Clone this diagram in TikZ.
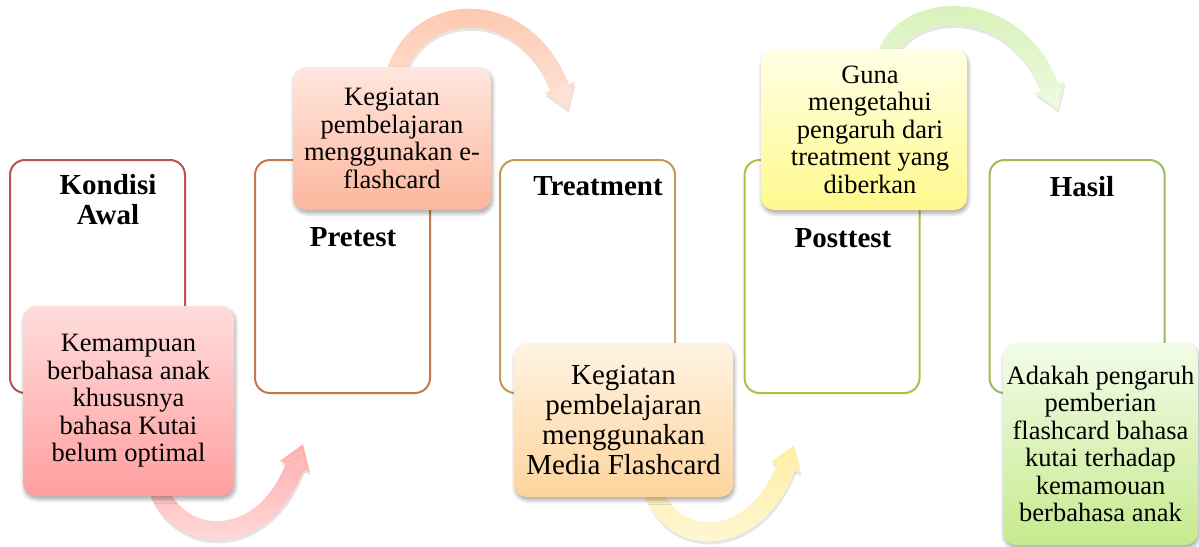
\documentclass[tikz,border=0pt]{standalone}
\usepackage{fontspec}
\setmainfont{Liberation Serif}
\usetikzlibrary{arrows.meta,shadows,shadows.blur,fadings}
\definecolor{oA}{HTML}{C0504D}
\definecolor{oB}{HTML}{C47850}
\definecolor{oC}{HTML}{C49A52}
\definecolor{oD}{HTML}{B9B94A}
\definecolor{oE}{HTML}{9BBB59}
\definecolor{fAt}{HTML}{FFDCDC}
\definecolor{fAb}{HTML}{FF9F9F}
\definecolor{fBt}{HTML}{FFE6DE}
\definecolor{fBb}{HTML}{FCB79C}
\definecolor{fCt}{HTML}{FFF3E4}
\definecolor{fCb}{HTML}{FDD49C}
\definecolor{fDt}{HTML}{FFFFE6}
\definecolor{fDb}{HTML}{FFF98C}
\definecolor{fEt}{HTML}{F2FCE8}
\definecolor{fEb}{HTML}{C6EA8E}
\definecolor{aAd}{HTML}{FFA9A9}
\definecolor{aAl}{HTML}{FFE0E0}
\definecolor{aBd}{HTML}{FDC4A8}
\definecolor{aBl}{HTML}{FFE6DC}
\definecolor{aCd}{HTML}{FFEE9C}
\definecolor{aCl}{HTML}{FFF8DE}
\definecolor{aDd}{HTML}{D6F1B4}
\definecolor{aDl}{HTML}{EEFAE2}
\newcommand{\cardfont}{\fontsize{13.25}{13.75}\selectfont}
\newcommand{\mediafont}{\fontsize{14.5}{15}\selectfont}
\newcommand{\headfont}{\fontsize{14.5}{15}\selectfont\bfseries}
\pgfdeclarelayer{back}
\pgfsetlayers{back,main}
\begin{document}
\begin{tikzpicture}[x=0.5pt,y=-0.5pt,
  outl/.style={draw, line width=1pt, rounded corners=7.5pt, minimum width=87.5pt, minimum height=116.5pt, inner sep=0pt},
  card/.style={rounded corners=6.5pt, align=center, inner sep=0pt, font=\cardfont,
    blur shadow={shadow xshift=0.6pt, shadow yshift=-1.6pt, shadow blur radius=2pt, shadow opacity=35, shadow blur steps=6}},
  ttl/.style={font=\headfont, align=center},
  flow/.style={line width=9.5pt, -{Triangle[length=12pt,width=15pt]}},
  flowshade/.style={flow, draw=black, opacity=0.10, transform canvas={shift={(0.5pt,-1.5pt)}}},
]
\useasboundingbox (0,0) rectangle (1199,546);

% outline columns
\node[outl, draw=oA] (b1) at (97.5,276.5) {};
\node[outl, draw=oB] (b2) at (342.5,276.5) {};
\node[outl, draw=oC] (b3) at (587.5,276.5) {};
\node[outl, draw=oD] (b4) at (832,276.5) {};
\node[outl, draw=oE] (b5) at (1077,276.5) {};

% titles
\node[ttl] (t1) at (108,200) {Kondisi\\Awal};
\node[ttl, anchor=base] (t2) at (353,246) {Pretest};
\node[ttl, anchor=base] (t3) at (598,195) {Treatment};
\node[ttl, anchor=base] (t4) at (843,247) {Posttest};
\node[ttl, anchor=base] (t5) at (1082,196) {Hasil};

% cards
\node[card, top color=fAt, bottom color=fAb, minimum width=105.5pt, minimum height=95pt] (f1) at (128.5,401)
  {Kemampuan\\berbahasa anak\\khususnya\\bahasa Kutai\\belum optimal};
\node[card, top color=fBt, bottom color=fBb, minimum width=99pt, minimum height=71.5pt] (f2) at (392,138.5)
  {Kegiatan\\pembelajaran\\menggunakan e-\\flashcard};
\node[card, font=\mediafont, top color=fCt, bottom color=fCb, minimum width=109.5pt, minimum height=77pt] (f3) at (623.5,420)
  {Kegiatan\\pembelajaran\\menggunakan\\Media Flashcard};
\node[card, top color=fDt, bottom color=fDb, minimum width=103pt, minimum height=80.5pt] (f4) at (864,129.5)
  {\hspace*{6pt}Guna\\\hspace*{6pt}mengetahui\\\hspace*{6pt}pengaruh dari\\\hspace*{6pt}treatment yang\\\hspace*{6pt}diberkan};
\node[card, top color=fEt, bottom color=fEb, minimum width=97.5pt, minimum height=101pt] (f5) at (1100.5,444)
  {Adakah pengaruh\\pemberian\\flashcard bahasa\\kutai terhadap\\kemamouan\\berbahasa anak};

% curved arrows (behind the cards)
\coordinate (e1) at (303,444);
\coordinate (e2) at (568,110);
\coordinate (e3) at (794,445);
\coordinate (e4) at (1058,110);
\begin{pgfonlayer}{back}
\draw[flowshade] ([xshift=15pt,yshift=3pt]f1.south) .. controls (182,548) and (265,548) .. (e1);
\draw[flow, draw=aAd] ([xshift=15pt,yshift=3pt]f1.south) .. controls (182,548) and (265,548) .. (e1);
\draw[flow, draw=aAl, path fading=north] ([xshift=15pt,yshift=3pt]f1.south) .. controls (182,548) and (265,548) .. (e1);

\draw[flowshade] ([xshift=2pt,yshift=-3pt]f2.north) .. controls (418,0) and (525,-5) .. (e2);
\draw[flow, draw=aBd] ([xshift=2pt,yshift=-3pt]f2.north) .. controls (418,0) and (525,-5) .. (e2);
\draw[flow, draw=aBl, path fading=north] ([xshift=2pt,yshift=-3pt]f2.north) .. controls (418,0) and (525,-5) .. (e2);

\draw[flowshade] ([xshift=15pt,yshift=3pt]f3.south) .. controls (673,549) and (756,549) .. (e3);
\draw[flow, draw=aCd] ([xshift=15pt,yshift=3pt]f3.south) .. controls (673,549) and (756,549) .. (e3);
\draw[flow, draw=aCl, path fading=north] ([xshift=15pt,yshift=3pt]f3.south) .. controls (673,549) and (756,549) .. (e3);

\draw[flowshade] ([xshift=11.5pt,yshift=-3pt]f4.north) .. controls (908,0) and (1015,-5) .. (e4);
\draw[flow, draw=aDd] ([xshift=11.5pt,yshift=-3pt]f4.north) .. controls (908,0) and (1015,-5) .. (e4);
\draw[flow, draw=aDl, path fading=north] ([xshift=11.5pt,yshift=-3pt]f4.north) .. controls (908,0) and (1015,-5) .. (e4);
\end{pgfonlayer}
\end{tikzpicture}
\end{document}
